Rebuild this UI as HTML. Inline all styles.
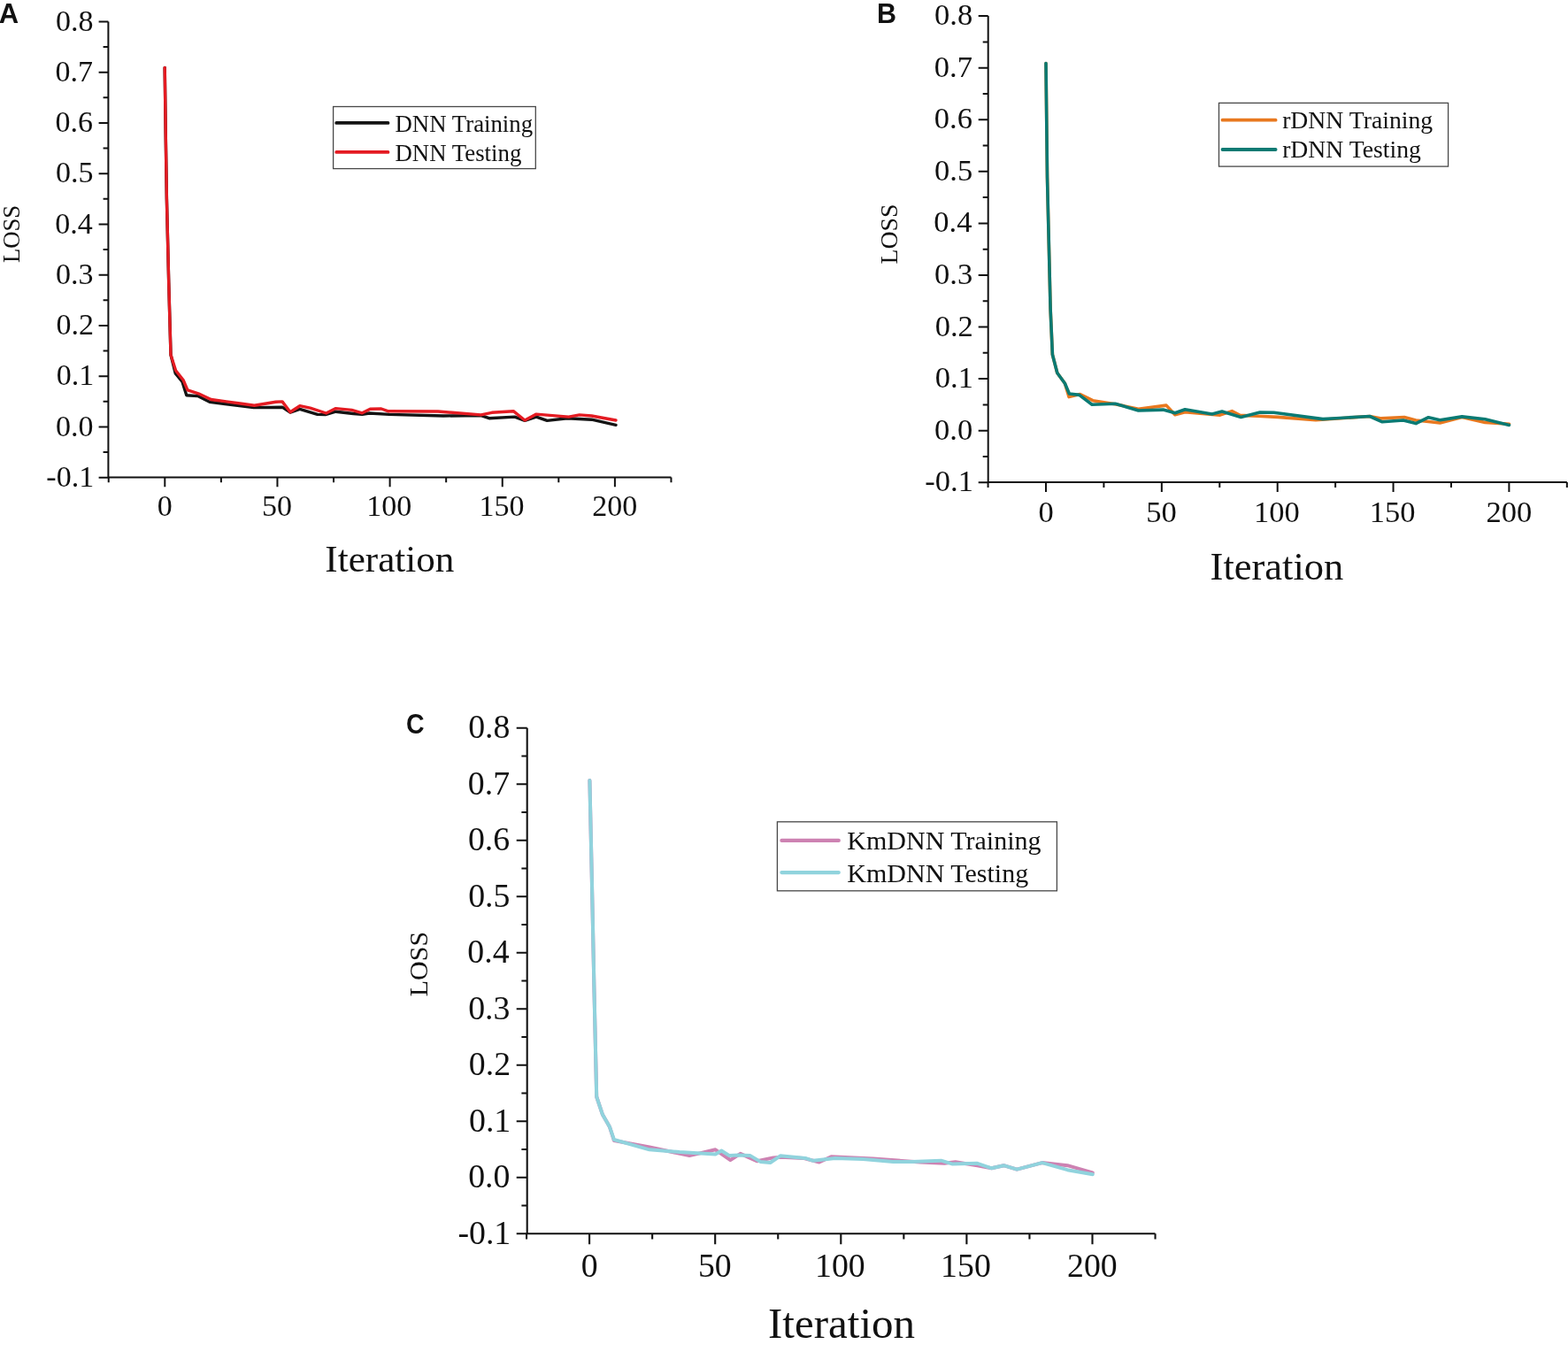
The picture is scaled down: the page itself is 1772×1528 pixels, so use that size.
<!DOCTYPE html>
<html><head><meta charset="utf-8"><title>Loss curves</title>
<style>html,body{margin:0;padding:0;background:#fff;}svg{display:block;}</style></head>
<body><svg width="1772" height="1528" viewBox="0 0 1772 1528" fill="#111">
<rect width="1772" height="1528" fill="#fff"/>
<path d="M122.40 539.64V24.48 M111.60 539.64H122.40 M116.60 511.02H122.40 M111.60 482.40H122.40 M116.60 453.78H122.40 M111.60 425.16H122.40 M116.60 396.54H122.40 M111.60 367.92H122.40 M116.60 339.30H122.40 M111.60 310.68H122.40 M116.60 282.06H122.40 M111.60 253.44H122.40 M116.60 224.82H122.40 M111.60 196.20H122.40 M116.60 167.58H122.40 M111.60 138.96H122.40 M116.60 110.34H122.40 M111.60 81.72H122.40 M116.60 53.10H122.40 M111.60 24.48H122.40 M122.73 539.50H758.47 M122.73 539.50V545.30 M186.30 539.50V550.30 M249.88 539.50V545.30 M313.45 539.50V550.30 M377.02 539.50V545.30 M440.60 539.50V550.30 M504.17 539.50V545.30 M567.75 539.50V550.30 M631.32 539.50V545.30 M694.90 539.50V550.30 M758.47 539.50V545.30" stroke="#111" stroke-width="2.0" fill="none" stroke-linecap="butt"/>
<text x="52.32" y="549.84" font-size="34" font-family="Liberation Serif, Times New Roman, serif">-0.1</text>
<text x="62.89" y="492.60" font-size="34" font-family="Liberation Serif, Times New Roman, serif">0.0</text>
<text x="63.64" y="435.36" font-size="34" font-family="Liberation Serif, Times New Roman, serif">0.1</text>
<text x="63.48" y="378.12" font-size="34" font-family="Liberation Serif, Times New Roman, serif">0.2</text>
<text x="62.93" y="320.88" font-size="34" font-family="Liberation Serif, Times New Roman, serif">0.3</text>
<text x="62.13" y="263.64" font-size="34" font-family="Liberation Serif, Times New Roman, serif">0.4</text>
<text x="62.93" y="206.40" font-size="34" font-family="Liberation Serif, Times New Roman, serif">0.5</text>
<text x="62.61" y="149.16" font-size="34" font-family="Liberation Serif, Times New Roman, serif">0.6</text>
<text x="62.58" y="91.92" font-size="34" font-family="Liberation Serif, Times New Roman, serif">0.7</text>
<text x="62.89" y="34.68" font-size="34" font-family="Liberation Serif, Times New Roman, serif">0.8</text>
<text x="177.80" y="582.60" font-size="34" font-family="Liberation Serif, Times New Roman, serif">0</text>
<text x="296.11" y="582.60" font-size="34" font-family="Liberation Serif, Times New Roman, serif">50</text>
<text x="414.25" y="582.60" font-size="34" font-family="Liberation Serif, Times New Roman, serif">100</text>
<text x="541.40" y="582.60" font-size="34" font-family="Liberation Serif, Times New Roman, serif">150</text>
<text x="669.30" y="582.60" font-size="34" font-family="Liberation Serif, Times New Roman, serif">200</text>
<text x="367.34" y="646.10" font-size="43.1" font-family="Liberation Serif, Times New Roman, serif">Iteration</text>
<text transform="translate(22.10 297.07) rotate(-90)" x="0" y="0" font-size="26.7" font-family="Liberation Serif, Times New Roman, serif">LOSS</text>
<text transform="translate(-1.37 26.20) scale(1.0 1)" font-size="31" font-family="Liberation Sans, Arial, sans-serif" font-weight="bold">A</text>
<rect x="376.60" y="120.50" width="228.70" height="70.10" fill="none" stroke="#484848" stroke-width="1.3"/>
<path d="M380.20 138.90H438.50" stroke="#141414" stroke-width="3.8" stroke-linecap="round"/>
<text x="446.53" y="148.90" font-size="26.8" font-family="Liberation Serif, Times New Roman, serif">DNN Training</text>
<path d="M380.20 171.90H438.50" stroke="#E41B22" stroke-width="3.8" stroke-linecap="round"/>
<text x="446.53" y="181.60" font-size="26.8" font-family="Liberation Serif, Times New Roman, serif">DNN Testing</text>
<path d="M186.2 76.5 L187.2 150.0 L188.4 225.0 L190.7 319.0 L193.0 401.0 L198.2 421.9 L206.0 431.4 L210.8 446.8 L223.5 447.6 L236.9 454.3 L286.7 460.6 L319.0 460.2 L328.0 466.1 L338.8 462.3 L358.7 468.4 L367.7 468.6 L379.5 465.2 L399.3 467.5 L409.3 468.4 L417.4 467.0 L440.0 468.4 L501.0 470.0 L543.6 469.6 L552.8 472.7 L581.7 471.1 L593.1 475.3 L606.1 471.1 L618.3 475.4 L641.1 472.7 L668.6 474.2 L696.0 480.3" stroke="#141414" stroke-width="3.4" fill="none" stroke-linejoin="round" stroke-linecap="round"/>
<path d="M186.2 76.5 L187.2 150.0 L188.4 225.0 L190.7 319.0 L193.0 401.0 L198.6 418.7 L207.3 429.8 L212.0 440.8 L224.2 444.8 L238.5 451.5 L273.2 456.2 L287.4 458.2 L311.7 454.2 L319.0 453.9 L328.0 465.7 L338.8 458.7 L350.6 461.2 L368.6 467.0 L379.5 461.6 L397.5 463.4 L409.3 466.8 L418.3 462.3 L430.9 462.0 L439.0 464.8 L494.9 465.0 L543.6 468.9 L555.8 466.3 L580.2 464.7 L593.1 475.0 L606.1 468.1 L642.7 471.1 L654.8 468.9 L668.6 470.0 L696.0 475.0" stroke="#E41B22" stroke-width="3.4" fill="none" stroke-linejoin="round" stroke-linecap="round"/>
<path d="M1116.70 545.27V18.10 M1105.70 545.27H1116.70 M1110.70 515.99H1116.70 M1105.70 486.70H1116.70 M1110.70 457.41H1116.70 M1105.70 428.12H1116.70 M1110.70 398.84H1116.70 M1105.70 369.55H1116.70 M1110.70 340.26H1116.70 M1105.70 310.97H1116.70 M1110.70 281.69H1116.70 M1105.70 252.40H1116.70 M1110.70 223.11H1116.70 M1105.70 193.82H1116.70 M1110.70 164.54H1116.70 M1105.70 135.25H1116.70 M1110.70 105.96H1116.70 M1105.70 76.67H1116.70 M1110.70 47.39H1116.70 M1105.70 18.10H1116.70 M1116.58 545.10H1770.83 M1116.58 545.10V551.10 M1182.00 545.10V556.10 M1247.42 545.10V551.10 M1312.85 545.10V556.10 M1378.28 545.10V551.10 M1443.70 545.10V556.10 M1509.12 545.10V551.10 M1574.55 545.10V556.10 M1639.98 545.10V551.10 M1705.40 545.10V556.10 M1770.83 545.10V551.10" stroke="#111" stroke-width="2.0" fill="none" stroke-linecap="butt"/>
<text x="1045.36" y="555.27" font-size="34.5" font-family="Liberation Serif, Times New Roman, serif">-0.1</text>
<text x="1056.09" y="496.70" font-size="34.5" font-family="Liberation Serif, Times New Roman, serif">0.0</text>
<text x="1056.85" y="438.12" font-size="34.5" font-family="Liberation Serif, Times New Roman, serif">0.1</text>
<text x="1056.68" y="379.55" font-size="34.5" font-family="Liberation Serif, Times New Roman, serif">0.2</text>
<text x="1056.12" y="320.98" font-size="34.5" font-family="Liberation Serif, Times New Roman, serif">0.3</text>
<text x="1055.31" y="262.40" font-size="34.5" font-family="Liberation Serif, Times New Roman, serif">0.4</text>
<text x="1056.12" y="203.82" font-size="34.5" font-family="Liberation Serif, Times New Roman, serif">0.5</text>
<text x="1055.80" y="145.25" font-size="34.5" font-family="Liberation Serif, Times New Roman, serif">0.6</text>
<text x="1055.77" y="86.68" font-size="34.5" font-family="Liberation Serif, Times New Roman, serif">0.7</text>
<text x="1056.09" y="28.10" font-size="34.5" font-family="Liberation Serif, Times New Roman, serif">0.8</text>
<text x="1173.38" y="590.00" font-size="34.5" font-family="Liberation Serif, Times New Roman, serif">0</text>
<text x="1295.25" y="590.00" font-size="34.5" font-family="Liberation Serif, Times New Roman, serif">50</text>
<text x="1416.97" y="590.00" font-size="34.5" font-family="Liberation Serif, Times New Roman, serif">100</text>
<text x="1547.82" y="590.00" font-size="34.5" font-family="Liberation Serif, Times New Roman, serif">150</text>
<text x="1679.42" y="590.00" font-size="34.5" font-family="Liberation Serif, Times New Roman, serif">200</text>
<text x="1367.59" y="654.70" font-size="44.5" font-family="Liberation Serif, Times New Roman, serif">Iteration</text>
<text transform="translate(1013.60 298.50) rotate(-90)" x="0" y="0" font-size="27.8" font-family="Liberation Serif, Times New Roman, serif">LOSS</text>
<text transform="translate(990.96 26.20) scale(1.0 1)" font-size="30.5" font-family="Liberation Sans, Arial, sans-serif" font-weight="bold">B</text>
<rect x="1377.50" y="116.40" width="259.10" height="71.70" fill="none" stroke="#484848" stroke-width="1.3"/>
<path d="M1381.50 135.70H1441.60" stroke="#E8781F" stroke-width="3.8" stroke-linecap="round"/>
<text x="1449.15" y="144.50" font-size="27.7" font-family="Liberation Serif, Times New Roman, serif">rDNN Training</text>
<path d="M1381.50 169.00H1441.60" stroke="#0A7A73" stroke-width="3.8" stroke-linecap="round"/>
<text x="1449.15" y="178.20" font-size="27.7" font-family="Liberation Serif, Times New Roman, serif">rDNN Testing</text>
<path d="M1182.0 71.5 L1183.5 200.0 L1187.1 349.2 L1189.4 400.8 L1194.8 421.5 L1203.4 433.3 L1208.0 448.6 L1220.6 445.5 L1235.0 452.7 L1260.3 456.7 L1286.5 462.2 L1318.0 458.1 L1327.9 468.8 L1339.2 465.7 L1378.7 469.1 L1392.2 464.6 L1401.3 469.4 L1421.6 470.2 L1444.2 471.4 L1487.0 474.7 L1547.9 470.5 L1561.0 472.9 L1587.0 471.5 L1600.1 475.0 L1612.0 476.2 L1627.3 478.0 L1652.2 471.5 L1678.3 477.4 L1705.5 479.2" stroke="#E8781F" stroke-width="3.6" fill="none" stroke-linejoin="round" stroke-linecap="round"/>
<path d="M1182.0 71.5 L1183.5 200.0 L1187.1 349.2 L1189.4 400.8 L1194.8 421.5 L1203.4 433.3 L1208.4 445.0 L1219.7 446.4 L1234.1 457.2 L1260.3 456.3 L1286.5 464.0 L1314.5 463.1 L1327.9 466.8 L1339.2 462.7 L1369.7 468.0 L1381.0 465.1 L1402.4 471.4 L1423.8 466.0 L1439.6 466.3 L1494.9 473.6 L1510.0 472.7 L1547.9 470.5 L1562.1 476.8 L1585.8 475.0 L1600.1 478.6 L1614.3 471.7 L1627.3 474.8 L1652.2 470.9 L1678.3 473.8 L1705.5 480.4" stroke="#0A7A73" stroke-width="3.6" fill="none" stroke-linejoin="round" stroke-linecap="round"/>
<path d="M595.70 1394.20V822.70 M583.70 1394.20H595.70 M589.40 1362.45H595.70 M583.70 1330.70H595.70 M589.40 1298.95H595.70 M583.70 1267.20H595.70 M589.40 1235.45H595.70 M583.70 1203.70H595.70 M589.40 1171.95H595.70 M583.70 1140.20H595.70 M589.40 1108.45H595.70 M583.70 1076.70H595.70 M589.40 1044.95H595.70 M583.70 1013.20H595.70 M589.40 981.45H595.70 M583.70 949.70H595.70 M589.40 917.95H595.70 M583.70 886.20H595.70 M589.40 854.45H595.70 M583.70 822.70H595.70 M595.05 1394.30H1305.55 M595.05 1394.30V1400.60 M666.10 1394.30V1406.30 M737.15 1394.30V1400.60 M808.20 1394.30V1406.30 M879.25 1394.30V1400.60 M950.30 1394.30V1406.30 M1021.35 1394.30V1400.60 M1092.40 1394.30V1406.30 M1163.45 1394.30V1400.60 M1234.50 1394.30V1406.30 M1305.55 1394.30V1400.60" stroke="#111" stroke-width="2.1" fill="none" stroke-linecap="butt"/>
<text x="517.43" y="1405.80" font-size="37.8" font-family="Liberation Serif, Times New Roman, serif">-0.1</text>
<text x="529.19" y="1342.30" font-size="37.8" font-family="Liberation Serif, Times New Roman, serif">0.0</text>
<text x="530.02" y="1278.80" font-size="37.8" font-family="Liberation Serif, Times New Roman, serif">0.1</text>
<text x="529.84" y="1215.30" font-size="37.8" font-family="Liberation Serif, Times New Roman, serif">0.2</text>
<text x="529.23" y="1151.80" font-size="37.8" font-family="Liberation Serif, Times New Roman, serif">0.3</text>
<text x="528.34" y="1088.30" font-size="37.8" font-family="Liberation Serif, Times New Roman, serif">0.4</text>
<text x="529.23" y="1024.80" font-size="37.8" font-family="Liberation Serif, Times New Roman, serif">0.5</text>
<text x="528.88" y="961.30" font-size="37.8" font-family="Liberation Serif, Times New Roman, serif">0.6</text>
<text x="528.84" y="897.80" font-size="37.8" font-family="Liberation Serif, Times New Roman, serif">0.7</text>
<text x="529.19" y="834.30" font-size="37.8" font-family="Liberation Serif, Times New Roman, serif">0.8</text>
<text x="656.65" y="1442.70" font-size="37.8" font-family="Liberation Serif, Times New Roman, serif">0</text>
<text x="788.92" y="1442.70" font-size="37.8" font-family="Liberation Serif, Times New Roman, serif">50</text>
<text x="921.01" y="1442.70" font-size="37.8" font-family="Liberation Serif, Times New Roman, serif">100</text>
<text x="1063.11" y="1442.70" font-size="37.8" font-family="Liberation Serif, Times New Roman, serif">150</text>
<text x="1206.04" y="1442.70" font-size="37.8" font-family="Liberation Serif, Times New Roman, serif">200</text>
<text x="868.03" y="1512.30" font-size="49" font-family="Liberation Serif, Times New Roman, serif">Iteration</text>
<text transform="translate(483.20 1126.26) rotate(-90)" x="0" y="0" font-size="30" font-family="Liberation Serif, Times New Roman, serif">LOSS</text>
<text transform="translate(458.93 828.80) scale(0.91 1)" font-size="31.3" font-family="Liberation Sans, Arial, sans-serif" font-weight="bold">C</text>
<rect x="878.40" y="928.80" width="316.00" height="78.00" fill="none" stroke="#484848" stroke-width="1.3"/>
<path d="M883.40 949.90H947.80" stroke="#CD82B2" stroke-width="4.2" stroke-linecap="round"/>
<text x="957.34" y="960.20" font-size="30" font-family="Liberation Serif, Times New Roman, serif">KmDNN Training</text>
<path d="M883.40 986.10H947.80" stroke="#90D3DD" stroke-width="4.2" stroke-linecap="round"/>
<text x="957.34" y="997.00" font-size="30" font-family="Liberation Serif, Times New Roman, serif">KmDNN Testing</text>
<path d="M666.4 882.0 L669.0 1000.0 L671.5 1120.0 L674.2 1239.5 L681.0 1259.8 L688.9 1273.4 L693.9 1289.0 L734.0 1296.5 L779.2 1306.1 L808.5 1299.3 L825.4 1311.2 L836.7 1303.8 L855.8 1312.3 L873.9 1308.4 L882.9 1307.8 L907.7 1308.9 L925.8 1313.5 L939.3 1307.2 L986.7 1309.5 L1040.0 1313.5 L1067.2 1314.8 L1079.7 1313.3 L1104.5 1317.2 L1120.6 1320.3 L1134.3 1317.2 L1149.2 1321.6 L1177.7 1314.1 L1206.3 1317.2 L1234.8 1325.3" stroke="#CD82B2" stroke-width="4.0" fill="none" stroke-linejoin="round" stroke-linecap="round"/>
<path d="M666.4 882.0 L669.0 1000.0 L671.5 1120.0 L674.2 1239.5 L681.0 1259.8 L688.9 1273.4 L693.9 1288.0 L734.0 1299.3 L767.9 1302.1 L808.5 1304.4 L815.3 1300.5 L824.3 1306.1 L834.5 1305.5 L847.9 1306.1 L859.2 1312.9 L870.5 1314.0 L881.8 1306.3 L910.0 1308.9 L919.0 1311.8 L943.8 1308.9 L975.4 1310.1 L1009.3 1312.9 L1030.0 1312.9 L1063.5 1311.7 L1075.9 1315.4 L1104.5 1314.8 L1120.6 1320.3 L1134.3 1317.2 L1149.2 1321.6 L1177.7 1314.1 L1206.3 1322.2 L1234.8 1327.2" stroke="#90D3DD" stroke-width="4.0" fill="none" stroke-linejoin="round" stroke-linecap="round"/>
</svg></body></html>
